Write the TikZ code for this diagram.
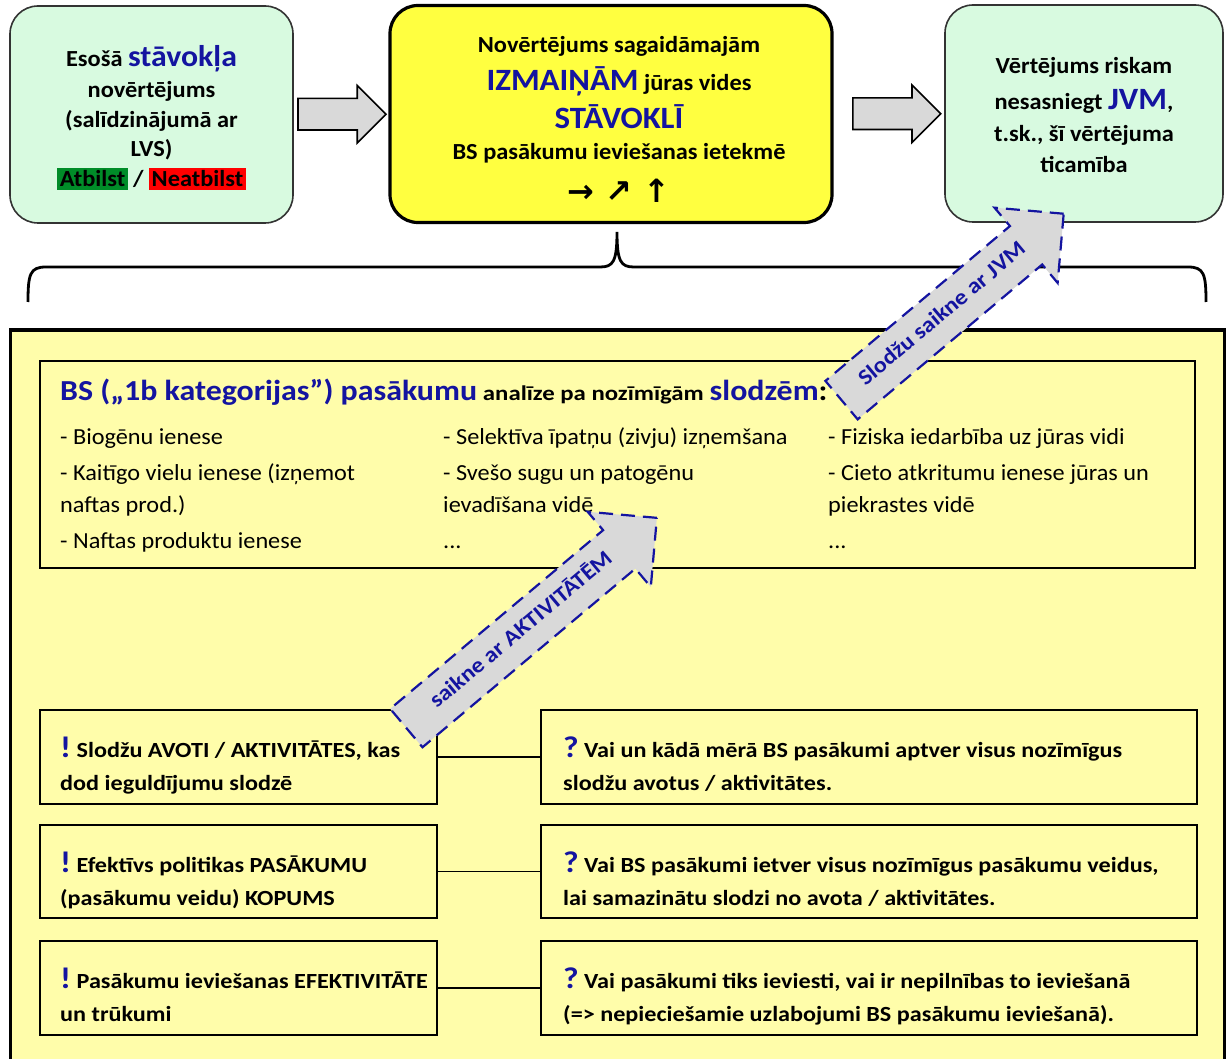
\documentclass[tikz,border=0pt]{standalone}
\usepackage{fontspec}
\setmainfont{Carlito}
\newfontfamily\symfont{DejaVu Sans}
\newfontfamily\fTop[FakeStretch=1.06]{Carlito}
\newfontfamily\fList[FakeStretch=1.055]{Carlito}
\newfontfamily\fBot[FakeStretch=1.12]{Carlito}
\newfontfamily\fBig[FakeStretch=1.1]{Carlito}
\newfontfamily\fMid[FakeStretch=1.18]{Carlito}
\usetikzlibrary{shapes.arrows,calc}
\definecolor{mint}{RGB}{216,250,224}
\definecolor{yel}{RGB}{255,255,64}
\definecolor{pale}{RGB}{255,253,170}
\definecolor{navy}{RGB}{20,20,160}
\definecolor{arrgray}{RGB}{217,217,217}
\definecolor{okgreen}{RGB}{0,140,40}
\definecolor{badred}{RGB}{255,0,0}
\newcommand{\fs}[2]{\fontsize{#1}{#2}\selectfont}
\tikzset{
  topbox/.style={draw=black!80, line width=1.6pt, fill=#1, rounded corners=28pt, inner sep=0},
  txt/.style={inner sep=0, anchor=base, font=\fTop\bfseries\fs{23}{28}},
  blockarrow/.style={single arrow, draw=black, line width=1.6pt, fill=arrgray, minimum height=88, minimum width=56, single arrow head extend=13, inner xsep=0, inner ysep=15pt, text height=0pt, text depth=0pt},
  panelbox/.style={draw=black, line width=3.5pt, fill=pale, inner sep=0},
  plainbox/.style={draw=black, line width=1.4pt, fill=pale, inner sep=0},
  item/.style={anchor=base west, inner sep=0, font=\fList\fs{23}{26}},
  btxt/.style={anchor=base west, inner sep=0, font=\fBot\bfseries\fs{21.6}{26}},
  dasharrow/.style={single arrow, draw=navy, dash pattern=on 14pt off 8pt, line width=2.2pt, fill=arrgray, text=navy, font=\fBig\bfseries\fs{22}{24}, single arrow head extend=24, minimum width=96, inner xsep=2pt, inner ysep=15pt, text height=14pt, text depth=4pt},
  link/.style={draw=black, line width=1.3pt}
}
\newcommand{\bang}{{\color{navy}\fs{30}{30}!}}
\newcommand{\qmark}{{\color{navy}\fs{30}{30}?}}
\begin{document}
\begin{tikzpicture}[x=1pt,y=-1pt]
\path[use as bounding box, fill=white] (0,0) rectangle (1227,1059);

% top boxes
\node[topbox=mint, minimum width=283, minimum height=217] (stav) at (151.5,114.5) {};
\node[topbox=yel, draw=black, line width=3.2pt, minimum width=442, minimum height=217] (mid) at (611,114) {};
\node[topbox=mint, minimum width=278, minimum height=217] (risk) at (1084,113.5) {};

\node[txt] (s1) at (151.5,67) {Esošā {\color{navy}\fs{30}{30}stāvokļa}};
\node[txt] (s2) at (151.5,98) {novērtējums};
\node[txt] (s3) at (151.5,128) {(salīdzinājumā ar};
\node[txt] (s4) at (151.5,157) {LVS)};
\node[txt] (s5) at (151.5,187) {\fboxsep=2.5pt\colorbox{okgreen}{Atbilst} / \colorbox{badred}{Neatbilst}};

\node[txt] (m1) at (619,53) {Novērtējums sagaidāmajām};
\node[txt] (m2) at (619,91) {{\color{navy}\fs{31}{32}IZMAIŅĀM} jūras vides};
\node[txt] (m3) at (619,129) {\color{navy}\fs{31}{32}STĀVOKLĪ};
\node[txt] (m4) at (619,160) {BS pasākumu ieviešanas ietekmē};
\node[txt] (m5) at (619,203) {\symfont\bfseries\fs{32}{32}→ ↗ ↑};

\node[txt] (r1) at (1084,74) {Vērtējums riskam};
\node[txt] (r2) at (1084,110) {nesasniegt {\color{navy}\fs{31}{32}JVM},};
\node[txt] (r3) at (1084,142) {t.sk., šī vērtējuma};
\node[txt] (r4) at (1084,173) {ticamība};

% block arrows between top boxes
\node[blockarrow] (ar1) at ($(stav.east)!0.5!(mid.west)+(-7,0)$) {};
\node[blockarrow] (ar2) at ($(mid.east)!0.5!(risk.west)$) {};

% brace
\coordinate (btip) at (617,232);
\draw[line width=2.8pt] (28,302) .. controls (28,274) and (30,267) .. (46,267)
  -- (600,267) .. controls (613,267) and (617,262) .. (btip)
  .. controls (617,262) and (621,267) .. (634,267)
  -- (1188,267) .. controls (1204,267) and (1206,274) .. (1206,302);

% panel
\node[panelbox, minimum width=1214, minimum height=760] (panel) at (617.5,710) {};

% BS box
\node[plainbox, minimum width=1155, minimum height=207] (bs) at (617.5,464.5) {};
\node[anchor=base west, inner sep=0, font=\fBig\bfseries\fs{24}{30}] (bst) at (60,400) {{\color{navy}\fs{29}{30}BS („1b kategorijas”) pasākumu} {\fMid\bfseries\fs{21}{24}analīze pa nozīmīgām} {\color{navy}\fs{29}{30}slodzēm}{\fs{29}{30}:}};

\node[item] (c11) at (60,444) {- Biogēnu ienese};
\node[item] (c12) at (60,480) {- Kaitīgo vielu ienese (izņemot};
\node[item] (c12b) at (60,512) {naftas prod.)};
\node[item] (c13) at (60,548) {- Naftas produktu ienese};
\node[item] (c21) at (443,444) {- Selektīva īpatņu (zivju) izņemšana};
\node[item] (c22) at (443,480) {- Svešo sugu un patogēnu};
\node[item] (c22b) at (443,512) {ievadīšana vidē};
\node[item] (c23) at (443,548) {...};
\node[item] (c31) at (828,444) {- Fiziska iedarbība uz jūras vidi};
\node[item] (c32) at (828,480) {- Cieto atkritumu ienese jūras un};
\node[item] (c32b) at (828,512) {piekrastes vidē};
\node[item] (c33) at (828,548) {...};

% lower boxes
\node[plainbox, minimum width=397, minimum height=94] (L1) at (238.5,757) {};
\node[plainbox, minimum width=397, minimum height=93] (L2) at (238.5,871.5) {};
\node[plainbox, minimum width=397, minimum height=94] (L3) at (238.5,988) {};
\node[plainbox, minimum width=656, minimum height=94] (R1) at (869,757) {};
\node[plainbox, minimum width=656, minimum height=93] (R2) at (869,871.5) {};
\node[plainbox, minimum width=656, minimum height=94] (R3) at (869,988) {};
\draw[link] (L1.east) -- (R1.west);
\draw[link] (L2.east) -- (R2.west);
\draw[link] (L3.east) -- (R3.west);

\node[btxt] (l1a) at (60,757) {\bang\ Slodžu AVOTI / AKTIVITĀTES, kas};
\node[btxt] (l1b) at (60,790) {dod ieguldījumu slodzē};
\node[btxt] (l2a) at (60,872) {\bang\ Efektīvs politikas PASĀKUMU};
\node[btxt] (l2b) at (60,905) {(pasākumu veidu) KOPUMS};
\node[btxt] (l3a) at (60,988) {\bang\ Pasākumu ieviešanas EFEKTIVITĀTE};
\node[btxt] (l3b) at (60,1021) {un trūkumi};

\node[btxt] (q1a) at (563,757) {\qmark\ Vai un kādā mērā BS pasākumi aptver visus nozīmīgus};
\node[btxt] (q1b) at (563,790) {slodžu avotus / aktivitātes.};
\node[btxt] (q2a) at (563,872) {\qmark\ Vai BS pasākumi ietver visus nozīmīgus pasākumu veidus,};
\node[btxt] (q2b) at (563,905) {lai samazinātu slodzi no avota / aktivitātes.};
\node[btxt] (q3a) at (563,988) {\qmark\ Vai pasākumi tiks ieviesti, vai ir nepilnības to ieviešanā};
\node[btxt] (q3b) at (563,1021) {(=> nepieciešamie uzlabojumi BS pasākumu ieviešanā).};

% dashed arrows
\node[dasharrow, minimum height=327, rotate=40] (act) at (522,631) {saikne ar AKTIVITĀTĒM};
\node[dasharrow, minimum height=290, rotate=40] (jvm) at (943,315) {Slodžu saikne ar JVM};
\end{tikzpicture}
\end{document}
